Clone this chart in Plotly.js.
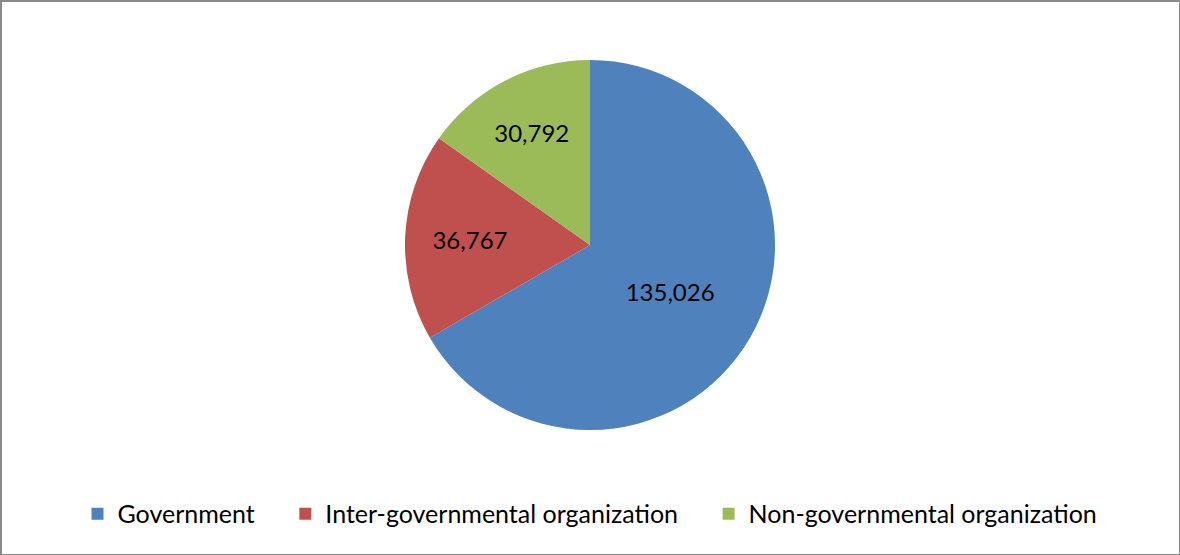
<!DOCTYPE html>
<html><head><meta charset="utf-8">
<script src="https://cdn.plot.ly/plotly-3.0.1.min.js"></script>
<style>
body{margin:0;padding:0;background:#fff;}
#wrap{position:relative;width:1180px;height:555px;}
#chart{width:1180px;height:555px;}
#frame{position:absolute;left:0;top:0;width:1180px;height:555px;box-sizing:border-box;border:2px solid #8a8a8a;border-right-width:1px;border-bottom-width:1px;pointer-events:none;}
</style></head>
<body>
<div id="wrap"><div id="chart"></div><div id="frame"></div></div>
<script>
const categories = ["Government", "Inter-governmental organization", "Non-governmental organization"];
const values = [135026, 36767, 30792];
const colors = ["#4F81BD", "#C0504D", "#9BBB59"];

// legend entries padded with non-breaking spaces to reproduce the wide gaps between items
const pad = "\u00a0\u00a0\u00a0\u00a0";
const legendLabels = categories.map((c, i) => i < categories.length - 1 ? c + pad : c);

const data = [{
  type: "pie",
  labels: legendLabels,
  values: values,
  sort: false,
  direction: "clockwise",
  rotation: 0,
  marker: {colors: colors, line: {width: 0}},
  textinfo: "value",
  texttemplate: "%{value:,}",
  textposition: "inside",
  insidetextorientation: "horizontal",
  textfont: {family: "Lato, sans-serif", size: 24, color: "#000"},
  hoverinfo: "label+value"
}];

const layout = {
  width: 1180, height: 555,
  margin: {l: 0, r: 0, t: 60, b: 125},
  paper_bgcolor: "#fff",
  showlegend: true,
  legend: {
    orientation: "h",
    x: 0.5, xanchor: "center",
    y: -0.227, yanchor: "middle",
    font: {family: "Lato, sans-serif", size: 25, color: "#000"},
    itemwidth: 30
  },
  font: {family: "Lato, sans-serif"}
};
Plotly.newPlot("chart", data, layout, {displayModeBar: false, staticPlot: true});
</script>
</body></html>
